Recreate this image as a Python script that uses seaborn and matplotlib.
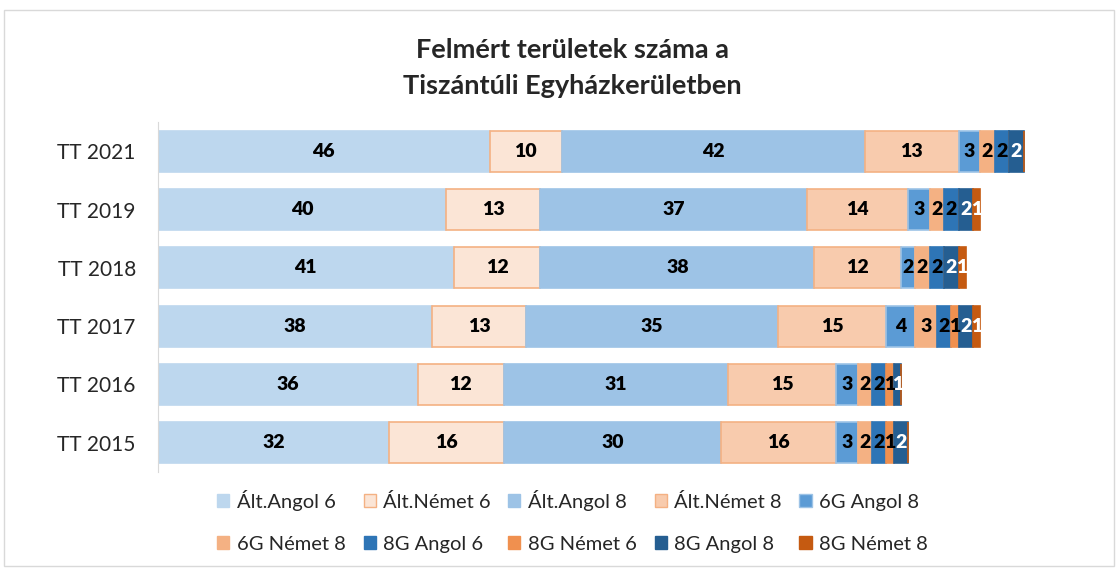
import matplotlib.pyplot as plt
import pandas as pd
import seaborn as sns
from matplotlib.patches import Rectangle, Patch

# Adatok
evek = ['TT 2021', 'TT 2019', 'TT 2018', 'TT 2017', 'TT 2016', 'TT 2015']
sorozatok = ['Ált.Angol 6', 'Ált.Német 6', 'Ált.Angol 8', 'Ált.Német 8', '6G Angol 8',
             '6G Német 8', '8G Angol 6', '8G Német 6', '8G Angol 8', '8G Német 8']

alt_angol_6 = [46, 40, 41, 38, 36, 32]
alt_nemet_6 = [10, 13, 12, 13, 12, 16]
alt_angol_8 = [42, 37, 38, 35, 31, 30]
alt_nemet_8 = [13, 14, 12, 15, 15, 16]
g6_angol_8 = [3, 3, 2, 4, 3, 3]
g6_nemet_8 = [2, 2, 2, 3, 2, 2]
g8_angol_6 = [2, 2, 2, 2, 2, 2]
g8_nemet_6 = [0, 0, 0, 1, 1, 1]
g8_angol_8 = [2, 2, 2, 2, 1, 2]
g8_nemet_8 = [0, 1, 1, 1, 0, 0]

ertekek = [alt_angol_6, alt_nemet_6, alt_angol_8, alt_nemet_8, g6_angol_8,
           g6_nemet_8, g8_angol_6, g8_nemet_6, g8_angol_8, g8_nemet_8]

szinek = ['#BDD7EE', '#FBE5D6', '#9DC3E6', '#F8CBAD', '#5B9BD5',
          '#F4B183', '#2E75B6', '#F0904F', '#255E91', '#C55A11']
keretek = ['#BDD7EE', '#F4B183', '#9DC3E6', '#F4B183', '#9DC3E6',
           '#F4B183', '#2E75B6', '#F0904F', '#255E91', '#C55A11']
cimke_szin = ['black'] * 8 + ['white', 'white']

sns.set_style('white')
plt.rcParams['font.family'] = ['Lato', 'DejaVu Sans']

fig = plt.figure(figsize=(11.18, 5.71), dpi=100)
ax = fig.add_axes([0.1413, 0.1734, 0.80, 0.6129])

bal = [0] * len(evek)
for i, nev in enumerate(sorozatok):
    df = pd.DataFrame({'ev': evek, 'ertek': ertekek[i]})
    sns.barplot(data=df, x='ertek', y='ev', order=evek, orient='y', errorbar=None,
                color=szinek[i], saturation=1, width=0.7, left=list(bal),
                edgecolor=keretek[i], linewidth=1.2, ax=ax)
    cont = ax.containers[-1]
    ax.bar_label(cont, labels=[str(v) if v > 0 else '' for v in ertekek[i]],
                 label_type='center', fontsize=14, fontweight='heavy', color=cimke_szin[i])
    bal = [b + v for b, v in zip(bal, ertekek[i])]

ax.set_xlim(0, 124)
ax.set_ylim(5.5, -0.5)
ax.set_xlabel('')
ax.set_ylabel('')
ax.xaxis.set_visible(False)
for s in ['top', 'right', 'bottom']:
    ax.spines[s].set_visible(False)
ax.spines['left'].set_color('#D9D9D9')
ax.tick_params(axis='y', length=0, labelsize=15, pad=16)

fig.text(0.512, 0.912, 'Felmért területek száma a', ha='center', va='center',
         fontsize=19.5, fontweight='bold')
fig.text(0.512, 0.850, 'Tiszántúli Egyházkerületben', ha='center', va='center',
         fontsize=19.5, fontweight='bold')

# sorfolytonos legenda (matplotlib oszloponként tölt)
kezelok = [Patch(facecolor=szinek[i], edgecolor=keretek[i], label=sorozatok[i])
           for i in range(len(sorozatok))]
sorrend = [0, 5, 1, 6, 2, 7, 3, 8, 4, 9]
fig.legend(handles=[kezelok[k] for k in sorrend], loc='center',
           bbox_to_anchor=(0.512, 0.087), ncol=5, frameon=False, fontsize=14.5,
           handlelength=0.6, handleheight=0.6, handletextpad=0.35,
           columnspacing=0.9, labelspacing=1.25)

fig.patches.append(Rectangle((0.004, 0.008), 0.992, 0.974, transform=fig.transFigure,
                             fill=False, edgecolor='#D9D9D9', linewidth=1))

fig.savefig('out.png', dpi=100)
